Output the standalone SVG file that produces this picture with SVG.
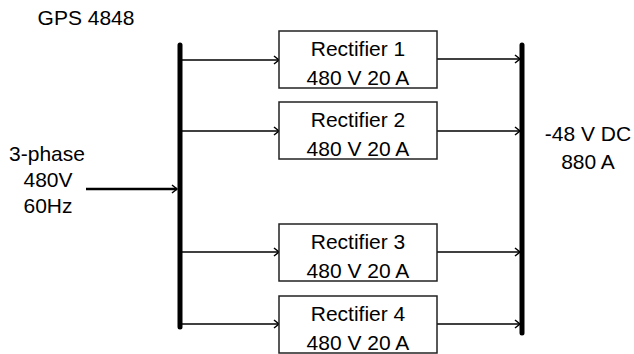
<svg xmlns="http://www.w3.org/2000/svg" width="634" height="354" viewBox="0 0 634 354">
<style>
text{font-family:"Liberation Sans",Arial,sans-serif;font-size:21px;fill:#000;text-anchor:middle}
.box{fill:#fff;stroke:#222;stroke-width:1.5}
.bus{stroke:#000;stroke-width:5;stroke-linecap:round}
.ln{stroke:#000;stroke-width:1.5;fill:none}
.in{stroke:#000;stroke-width:2.5;fill:none}
</style>
<defs>
<marker id="ah" markerWidth="10" markerHeight="10" refX="7" refY="5" orient="auto" markerUnits="userSpaceOnUse">
<path d="M2,1 L7,5 L2,9" fill="none" stroke="#000" stroke-width="1.5"/>
</marker>
</defs>
<text x="86" y="25">GPS 4848</text>
<g id="input-label">
<text x="47" y="161">3-phase</text>
<text x="48" y="187">480V</text>
<text x="48" y="213">60Hz</text>
</g>
<g id="output-label">
<text x="588" y="141">-48 V DC</text>
<text x="588" y="169">880 A</text>
</g>
<g id="ac-bus"><line class="bus" x1="180" y1="45" x2="180" y2="327"/></g>
<g id="dc-bus"><line class="bus" x1="522" y1="45" x2="522" y2="333"/></g>
<g id="connectors">
<line class="in" x1="86" y1="189" x2="177" y2="189" marker-end="url(#ah)"/>
<line class="ln" x1="182" y1="60" x2="279" y2="60" marker-end="url(#ah)"/>
<line class="ln" x1="182" y1="131" x2="279" y2="131" marker-end="url(#ah)"/>
<line class="ln" x1="182" y1="252" x2="279" y2="252" marker-end="url(#ah)"/>
<line class="ln" x1="182" y1="324" x2="279" y2="324" marker-end="url(#ah)"/>
<line class="ln" x1="437" y1="59" x2="520" y2="59" marker-end="url(#ah)"/>
<line class="ln" x1="437" y1="131" x2="520" y2="131" marker-end="url(#ah)"/>
<line class="ln" x1="437" y1="252" x2="520" y2="252" marker-end="url(#ah)"/>
<line class="ln" x1="437" y1="324" x2="520" y2="324" marker-end="url(#ah)"/>
</g>
<g id="rect1"><rect class="box" x="279" y="31" width="158" height="57"/><text x="358" y="56">Rectifier 1</text><text x="358" y="85">480 V 20 A</text></g>
<g id="rect2"><rect class="box" x="279" y="102" width="158" height="57"/><text x="358" y="127">Rectifier 2</text><text x="358" y="156">480 V 20 A</text></g>
<g id="rect3"><rect class="box" x="279" y="224" width="158" height="57"/><text x="358" y="249">Rectifier 3</text><text x="358" y="278">480 V 20 A</text></g>
<g id="rect4"><rect class="box" x="279" y="296" width="158" height="57"/><text x="358" y="321">Rectifier 4</text><text x="358" y="350">480 V 20 A</text></g>
</svg>
